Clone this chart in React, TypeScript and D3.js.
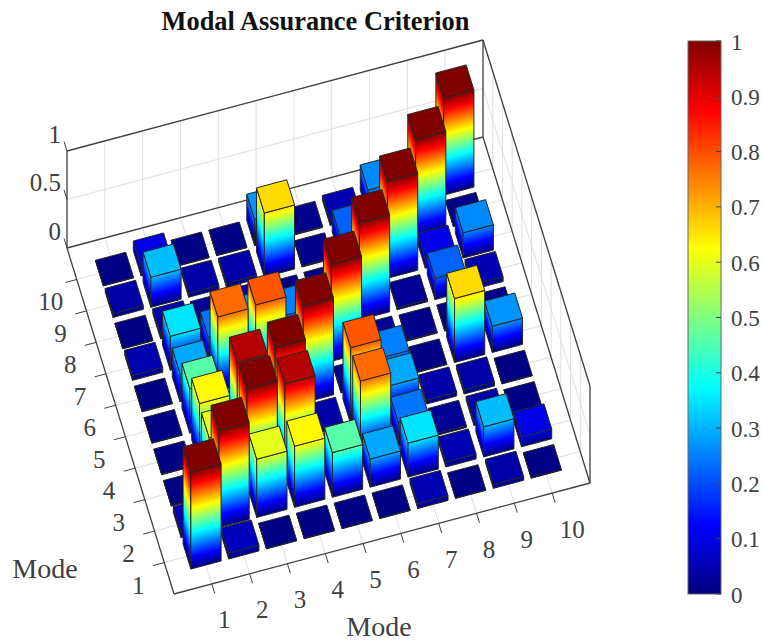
import React from "react";
import * as d3 from "d3";

const ticks = [1, 2, 3, 4, 5, 6, 7, 8, 9, 10];
const zTicks = [0, 0.5, 1];
const colorTicks = [0, 0.1, 0.2, 0.3, 0.4, 0.5, 0.6, 0.7, 0.8, 0.9, 1];

// lower triangle of the MAC matrix, the picture is symmetric
const macRows = [
  [1],
  [0.06, 1],
  [0.005, 0.6, 1],
  [0.005, 0.63, 0.95, 1],
  [0.005, 0.46, 0.01, 0.04, 1],
  [0.005, 0.29, 0.77, 0.79, 0.01, 1],
  [0.05, 0.35, 0.24, 0.29, 0.25, 0.02, 1],
  [0.005, 0.05, 0.02, 0.04, 0.005, 0.01, 0.02, 1],
  [0.04, 0.31, 0.04, 0.04, 0.66, 0.01, 0.22, 0.1, 1],
  [0.005, 0.1, 0.005, 0.005, 0.27, 0.01, 0.05, 0.26, 0.01, 1],
];

const jetStops = [0, 0.125, 0.375, 0.625, 0.875, 1];
const jetColors = ["#000080", "#0000ff", "#00ffff", "#ffff00", "#ff0000", "#800000"];
const jet = d3.scaleLinear<string>().domain(jetStops).range(jetColors).interpolate(d3.interpolateRgb);

// oblique projection of the 3D box, read from the corners of the floor
const sx = d3.scaleLinear().domain([0, 11]).range([0, 416]);
const sxY = d3.scaleLinear().domain([0, 11]).range([0, -111]);
const syX = d3.scaleLinear().domain([0, 11]).range([0, -107]);
const syY = d3.scaleLinear().domain([0, 11]).range([0, -346]);
const sz = d3.scaleLinear().domain([0, 1]).range([0, -97]);
const originX = 174;
const originY = 594;

type P = [number, number];
const proj = (x: number, y: number, z = 0): P => [
  originX + sx(x) + syX(y),
  originY + sxY(x) + syY(y) + sz(z),
];
const poly = (pts: P[]) => d3.line()(pts) + "Z";

const halfWidth = 0.4;
const axisColor = "#404040";
const edgeColor = "#262626";
const gridColor = "#dedede";
const textColor = "#404040";
const font = "'Liberation Serif', 'Times New Roman', serif";

type Bar = { i: number; j: number; v: number };
const bars: Bar[] = [];
// back rows first so the nearer bars paint over them
for (let j = 10; j >= 1; j--) {
  for (let i = 10; i >= 1; i--) {
    const v = i >= j ? macRows[i - 1][j - 1] : macRows[j - 1][i - 1];
    bars.push({ i, j, v });
  }
}

// gradient runs across the slanted iso-height lines of a side face
function faceGradient(id: string, base: P, edge: P, v: number) {
  const h: P = [0, sz(v)];
  const len = edge[0] * edge[0] + edge[1] * edge[1];
  const k = (h[0] * edge[0] + h[1] * edge[1]) / len;
  const g: P = [h[0] - k * edge[0], h[1] - k * edge[1]];
  const stops = [0, ...jetStops.filter((s) => s > 0 && s < v), v];
  return (
    <linearGradient
      key={id}
      id={id}
      gradientUnits="userSpaceOnUse"
      x1={base[0]}
      y1={base[1]}
      x2={base[0] + g[0]}
      y2={base[1] + g[1]}
    >
      {stops.map((s) => (
        <stop key={s} offset={s / v} stopColor={jet(s)} />
      ))}
    </linearGradient>
  );
}

function BarGlyph({ i, j, v }: Bar) {
  const x0 = i - halfWidth;
  const x1 = i + halfWidth;
  const y0 = j - halfWidth;
  const y1 = j + halfWidth;
  const corner = proj(x0, y0);
  const right = proj(x1, y0);
  const back = proj(x0, y1);
  const edgeFront: P = [right[0] - corner[0], right[1] - corner[1]];
  const edgeLeft: P = [back[0] - corner[0], back[1] - corner[1]];
  const frontId = `f${i}-${j}`;
  const leftId = `l${i}-${j}`;
  const edgeProps = { stroke: edgeColor, strokeWidth: 1, strokeLinejoin: "round" as const };
  return (
    <g>
      <defs>
        {faceGradient(frontId, corner, edgeFront, v)}
        {faceGradient(leftId, corner, edgeLeft, v)}
      </defs>
      <path d={poly([proj(x0, y0), proj(x0, y1), proj(x0, y1, v), proj(x0, y0, v)])} fill={`url(#${leftId})`} {...edgeProps} />
      <path d={poly([proj(x0, y0), proj(x1, y0), proj(x1, y0, v), proj(x0, y0, v)])} fill={`url(#${frontId})`} {...edgeProps} />
      <path d={poly([proj(x0, y0, v), proj(x1, y0, v), proj(x1, y1, v), proj(x0, y1, v)])} fill={jet(v)} {...edgeProps} />
    </g>
  );
}

function Box() {
  const line = (a: P, b: P, color: string, w = 1) => (
    <line x1={a[0]} y1={a[1]} x2={b[0]} y2={b[1]} stroke={color} strokeWidth={w} />
  );
  const dark = (a: P, b: P) => line(a, b, axisColor, 1.3);
  return (
    <g>
      {ticks.map((t) => (
        <g key={t}>
          {line(proj(t, 0), proj(t, 11), gridColor)}
          {line(proj(t, 11), proj(t, 11, 1), gridColor)}
          {line(proj(0, t), proj(11, t), gridColor)}
          {line(proj(11, t), proj(11, t, 1), gridColor)}
        </g>
      ))}
      {zTicks.map((z) => (
        <g key={z}>
          {line(proj(0, 11, z), proj(11, 11, z), gridColor)}
          {line(proj(11, 11, z), proj(11, 0, z), gridColor)}
        </g>
      ))}
      {dark(proj(0, 0), proj(11, 0))}
      {dark(proj(0, 0), proj(0, 11))}
      {dark(proj(0, 11), proj(11, 11))}
      {dark(proj(11, 11), proj(11, 0))}
      {dark(proj(0, 11, 1), proj(11, 11, 1))}
      {dark(proj(11, 11, 1), proj(11, 0, 1))}
      {dark(proj(0, 11), proj(0, 11, 1))}
      {dark(proj(11, 11), proj(11, 11, 1))}
      {dark(proj(11, 0), proj(11, 0, 1))}
      {ticks.map((t) => (
        <g key={t}>
          {line(proj(t, 0), proj(t, -0.3), axisColor)}
          {line(proj(0, t), proj(-0.3, t), axisColor)}
        </g>
      ))}
      {zTicks.map((z) => (
        <g key={z}>{line(proj(0, 11, z), proj(0, 11.3, z), axisColor)}</g>
      ))}
    </g>
  );
}

function AxisLabels() {
  return (
    <g fontFamily={font} fill={textColor} fontSize={25}>
      {ticks.map((t) => {
        const p = proj(t, 0);
        return (
          <text key={t} x={p[0] + (t === 10 ? 20 : 12.5)} y={p[1] + 44.5} textAnchor="middle">
            {t}
          </text>
        );
      })}
      {ticks.map((t) => {
        const p = proj(0, t);
        return (
          <text key={t} x={p[0] - 26} y={p[1] + 31} textAnchor="middle">
            {t}
          </text>
        );
      })}
      {zTicks.map((z) => {
        const p = proj(0, 11, z);
        return (
          <text key={z} x={p[0] - 6} y={p[1] - 8.5} textAnchor="end">
            {z}
          </text>
        );
      })}
      <text x={45} y={578} textAnchor="middle" fontSize={28}>
        Mode
      </text>
      <text x={379} y={636} textAnchor="middle" fontSize={28}>
        Mode
      </text>
    </g>
  );
}

function Colorbar() {
  const x = 688;
  const w = 33;
  const cy = d3.scaleLinear().domain([0, 1]).range([594, 41]);
  return (
    <g>
      <defs>
        <linearGradient id="cbar" x1="0" y1="1" x2="0" y2="0">
          {jetStops.map((s) => (
            <stop key={s} offset={s} stopColor={jet(s)} />
          ))}
        </linearGradient>
      </defs>
      <rect x={x} y={cy(1)} width={w} height={cy(0) - cy(1)} fill="url(#cbar)" stroke="#666" strokeWidth={1} />
      {colorTicks.map((t) => (
        <g key={t}>
          <line x1={x + w - 5} x2={x + w} y1={cy(t)} y2={cy(t)} stroke={axisColor} strokeWidth={1} />
          <text x={x + w + 10} y={cy(t) + 8.5} fontFamily={font} fontSize={23} fill={textColor}>
            {t}
          </text>
        </g>
      ))}
    </g>
  );
}

export default function App() {
  return (
    <svg
      width={763}
      height={641}
      style={{ position: "absolute", left: 0, top: 0, background: "#fff" }}
    >
      <text x={315.5} y={30} textAnchor="middle" fontFamily={font} fontWeight="bold" fontSize={26.4} fill="#111">
        Modal Assurance Criterion
      </text>
      <Box />
      {bars.map((b) => (
        <BarGlyph key={`${b.i}-${b.j}`} {...b} />
      ))}
      <AxisLabels />
      <Colorbar />
    </svg>
  );
}
